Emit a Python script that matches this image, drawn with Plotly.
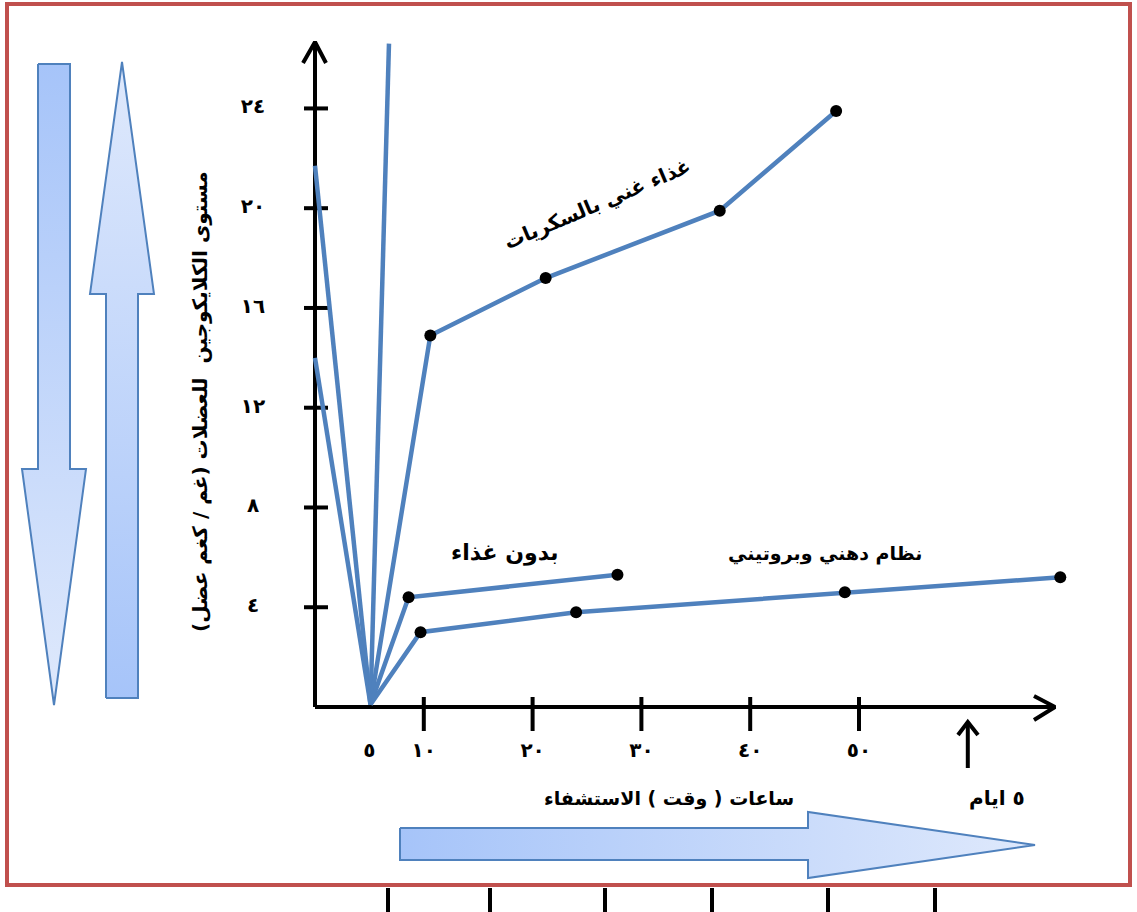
import plotly.graph_objects as go

W, H = 1137, 912

# Calibration of the data axes on the page: origin (0 h, 0 g/kg) and pixels per unit
X0_PX, Y0_PX = 315, 707
PX_PER_HOUR, PX_PER_UNIT = 10.88, 24.94

# ---- data (hours after exercise, muscle glycogen g/kg) ----
vertex_h, vertex_g = 5.1, 0.1

depl_start_h = [0.0, 0.0, 6.8]
depl_start_g = [21.7, 14.0, 26.6]

sugar_h = [vertex_h, 10.6, 21.2, 37.2, 47.9]
sugar_g = [vertex_g, 14.9, 17.2, 19.9, 23.9]

fast_h = [vertex_h, 8.6, 27.8]
fast_g = [vertex_g, 4.4, 5.3]

fat_h = [vertex_h, 9.7, 24.0, 48.7, 68.5]
fat_g = [vertex_g, 3.0, 3.8, 4.6, 5.2]

x_ticks = [5, 10, 20, 30, 40, 50]
x_tick_text = ["٥", "١٠", "٢٠", "٣٠", "٤٠", "٥٠"]
x_tick_marks = [10, 20, 30, 40, 50]
y_ticks = [4, 8, 12, 16, 20, 24]
y_tick_text = ["٤", "٨", "١٢", "١٦", "٢٠", "٢٤"]

days_mark_h = 60.0

LINE = "#4f81bd"
FONT = "DejaVu Sans"


def px_x(px):
    return (px - X0_PX) / PX_PER_HOUR


def px_y(py):
    return (Y0_PX - py) / PX_PER_UNIT


fig = go.Figure()

# ---------- decorative shapes on the page layer (x2/y2 in pixels) ----------
def poly(xs, ys, c_start, c_end, gtype):
    fig.add_trace(go.Scatter(
        x=xs + [xs[0]], y=ys + [ys[0]], xaxis="x2", yaxis="y2",
        mode="lines", fill="toself",
        fillgradient=dict(type=gtype, colorscale=[[0, c_start], [1, c_end]]),
        line=dict(color=LINE, width=2), hoverinfo="skip", showlegend=False))

DARK, LIGHT = "#a6c4f9", "#dfe9fc"
# down arrow (left)
poly([38, 70, 70, 86, 54, 22, 38], [64, 64, 469, 469, 705, 469, 469], LIGHT, DARK, "vertical")
# up arrow
poly([106, 138, 138, 154, 122, 90, 106], [698, 698, 294, 294, 62, 294, 294], DARK, LIGHT, "vertical")
# horizontal arrow under the time axis
poly([400, 808, 808, 1035, 808, 808, 400], [828, 828, 812, 845, 878, 860, 860], DARK, LIGHT, "horizontal")

# small tick marks below the frame
bx, by = [], []
for x in [388, 490, 605, 712, 828, 935]:
    bx += [x, x, None]
    by += [888, 912, None]
fig.add_trace(go.Scatter(x=bx, y=by, xaxis="x2", yaxis="y2", mode="lines",
                         line=dict(color="black", width=4), hoverinfo="skip", showlegend=False))

# ---------- axes (data layer) ----------
ax_x_end, ax_y_end = px_x(1055), px_y(42)
fig.add_trace(go.Scatter(x=[0, ax_x_end, None, 0, 0], y=[0, 0, None, 0, ax_y_end],
                         mode="lines", line=dict(color="black", width=4),
                         hoverinfo="skip", showlegend=False))
# arrow heads
fig.add_trace(go.Scatter(
    x=[px_x(1034), ax_x_end, px_x(1034), None, px_x(303), 0, px_x(326)],
    y=[px_y(696), 0, px_y(720), None, px_y(63), ax_y_end, px_y(63)],
    mode="lines", line=dict(color="black", width=4), hoverinfo="skip", showlegend=False))

# tick marks crossing the axes
tx, ty = [], []
for t in x_tick_marks:
    tx += [t, t, None]
    ty += [px_y(697), px_y(731), None]
for t in y_ticks:
    tx += [px_x(304), px_x(328), None]
    ty += [t, t, None]
fig.add_trace(go.Scatter(x=tx, y=ty, mode="lines", line=dict(color="black", width=4),
                         hoverinfo="skip", showlegend=False))

# tick labels
TICK_FONT = dict(family=FONT, size=20, color="black", weight="bold")
fig.add_trace(go.Scatter(x=x_ticks, y=[px_y(752)] * len(x_ticks), mode="text",
                         text=x_tick_text, textfont=TICK_FONT,
                         hoverinfo="skip", showlegend=False))
fig.add_trace(go.Scatter(x=[px_x(253)] * len(y_ticks), y=y_ticks, mode="text",
                         text=y_tick_text, textfont=TICK_FONT,
                         hoverinfo="skip", showlegend=False))

# "5 days" arrow on the time axis
fig.add_trace(go.Scatter(
    x=[days_mark_h, days_mark_h, None, px_x(958), days_mark_h, px_x(978)],
    y=[px_y(768), px_y(722), None, px_y(735), px_y(722), px_y(735)],
    mode="lines", line=dict(color="black", width=4), hoverinfo="skip", showlegend=False))

# ---------- glycogen curves ----------
for h0, g0 in zip(depl_start_h, depl_start_g):
    fig.add_trace(go.Scatter(x=[h0, vertex_h], y=[g0, vertex_g], mode="lines",
                             line=dict(color=LINE, width=4.5), hoverinfo="skip", showlegend=False))

for hs, gs in [(sugar_h, sugar_g), (fast_h, fast_g), (fat_h, fat_g)]:
    fig.add_trace(go.Scatter(x=hs, y=gs, mode="lines", line=dict(color=LINE, width=4.5),
                             showlegend=False))
    fig.add_trace(go.Scatter(x=hs[1:], y=gs[1:], mode="markers",
                             marker=dict(color="black", size=12), showlegend=False))

# ---------- texts ----------
def note(text, x, y, size=18, angle=0):
    fig.add_annotation(text=text, x=x, y=y, xref="x2", yref="y2", showarrow=False,
                       textangle=angle,
                       font=dict(family=FONT, size=size, color="black", weight="bold"))

note("غذاء غني بالسكريات", 597, 204, 20, -23)
note("بدون غذاء", 505, 553, 22)
note("نظام دهني وبروتيني", 825, 553, 19)
note("ساعات ( وقت ) الاستشفاء", 669, 798, 19)
note("٥ ايام", 997, 798, 20)
note("مستوى الكلايكوجين  للعضلات (غم / كغم عضل)", 200, 402, 20, -90)

# outer frame
fig.add_shape(type="rect", xref="x2", yref="y2", x0=7, y0=4, x1=1130, y1=885,
              line=dict(color="#c0504d", width=4))

fig.update_layout(
    width=W, height=H, margin=dict(l=0, r=0, t=0, b=0),
    paper_bgcolor="white", plot_bgcolor="white", showlegend=False,
    xaxis=dict(range=[px_x(0), px_x(W)], visible=False, domain=[0, 1]),
    yaxis=dict(range=[px_y(H), px_y(0)], visible=False, domain=[0, 1]),
    xaxis2=dict(range=[0, W], visible=False, overlaying="x"),
    yaxis2=dict(range=[H, 0], visible=False, overlaying="y"),
)

fig.write_html("out.html")
